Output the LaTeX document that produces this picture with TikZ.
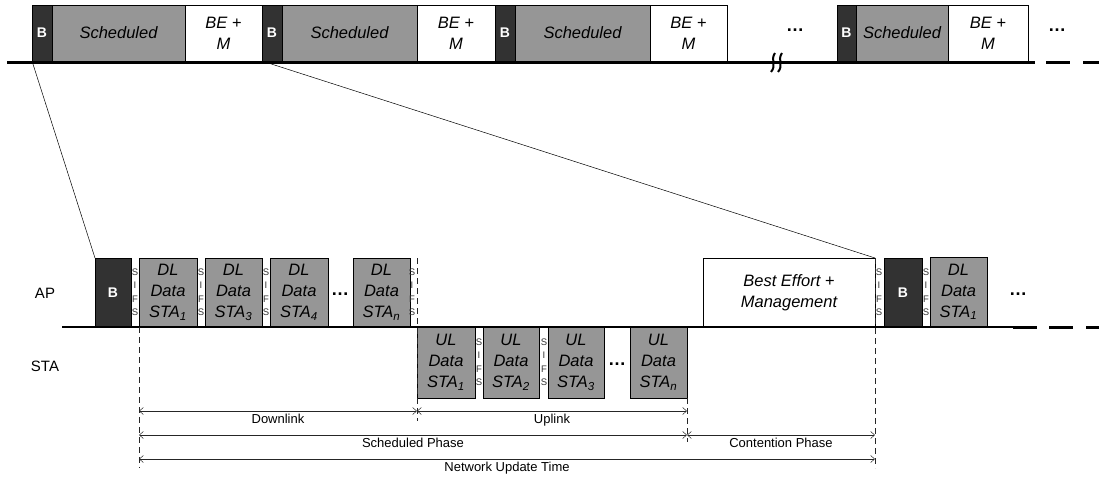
\documentclass[tikz,border=0pt]{standalone}
\usepackage{fontspec}
\setmainfont{Liberation Sans}
\usetikzlibrary{arrows.meta}
\definecolor{frgray}{RGB}{150,150,150}
\definecolor{bdark}{RGB}{50,50,50}

\begin{document}
\begin{tikzpicture}[x=1pt,y=-1pt]
\tikzstyle{every node}+=[inner sep=0pt, outer sep=0pt]
\tikzstyle{bcn}=[draw, line width=0.6pt, fill=bdark, text=white, font=\bfseries\fontsize{14}{14}\selectfont, anchor=north west]
\tikzstyle{sched}=[draw, line width=0.6pt, fill=frgray, font=\itshape\fontsize{16.5}{21}\selectfont, align=center, anchor=north west]
\tikzstyle{bem}=[draw, line width=0.6pt, fill=white, font=\itshape\fontsize{16.5}{21}\selectfont, align=center, anchor=north west]
\tikzstyle{sifs}=[font=\fontsize{9.5}{13.5}\selectfont, align=center, text=black!80]
\tikzstyle{dots}=[font=\bfseries\fontsize{18}{18}\selectfont]
\tikzstyle{dim}=[{Straight Barb[length=4pt,width=7pt]}-{Straight Barb[length=4pt,width=7pt]}, line width=0.5pt, black!85]
\tikzstyle{dimlbl}=[below=3pt, font=\fontsize{13}{13}\selectfont, text=black]
\tikzstyle{vguide}=[dash pattern=on 6pt off 4pt, line width=0.5pt, black!85]
\useasboundingbox (0,0) rectangle (1099,479);

% superframes on top
\node[bcn, minimum width=20, minimum height=56] (tb1) at (32,5) {B};
\node[sched, minimum width=133, minimum height=56] (ts1) at (tb1.north east) {Scheduled};
\node[bem, minimum width=77, minimum height=56] (te1) at (ts1.north east) {BE +\\M};
\node[bcn, minimum width=20, minimum height=56] (tb2) at (te1.north east) {B};
\node[sched, minimum width=135, minimum height=56] (ts2) at (tb2.north east) {Scheduled};
\node[bem, minimum width=78, minimum height=56] (te2) at (ts2.north east) {BE +\\M};
\node[bcn, minimum width=20, minimum height=56] (tb3) at (te2.north east) {B};
\node[sched, minimum width=135, minimum height=56] (ts3) at (tb3.north east) {Scheduled};
\node[bem, minimum width=77, minimum height=56] (te3) at (ts3.north east) {BE +\\M};
\node[dots] (tdots1) at (795,30) {\ldots};
\node[bcn, minimum width=19, minimum height=56] (tb4) at (837,5) {B};
\node[sched, minimum width=92, minimum height=56] (ts4) at (tb4.north east) {Scheduled};
\node[bem, minimum width=80, minimum height=56] (te4) at (ts4.north east) {BE +\\M};
\node[dots] (tdots2) at (1057,30) {\ldots};

\draw[line width=3pt] (7,62) -- (1035,62);
\draw[line width=3pt] (1046,62) -- (1070,62);
\draw[line width=3pt] (1083,62) -- (1099,62);
\draw[line width=2pt] (775,53) .. controls (770,60) and (777,65) .. (771,72);
\draw[line width=2pt] (782,53) .. controls (777,60) and (784,65) .. (778,72);

% one beacon interval, zoomed
\node[font=\fontsize{15}{15}\selectfont] (ap) at (45,293) {AP};
\node[font=\fontsize{15}{15}\selectfont] (sta) at (45,366) {STA};

\node[bcn, minimum width=36, minimum height=69] (b0) at (95,258) {B};
\node[sched, minimum width=58, minimum height=69] (dl1) at (139,258) {DL\\Data\\STA\textsubscript{1}};
\node[sched, minimum width=57, minimum height=69] (dl3) at (205,258) {DL\\Data\\STA\textsubscript{3}};
\node[sched, minimum width=58, minimum height=69] (dl4) at (270,258) {DL\\Data\\STA\textsubscript{4}};
\node[dots] (dldots) at (340,294) {\ldots};
\node[sched, minimum width=57, minimum height=69] (dln) at (353,258) {DL\\Data\\STA\textsubscript{\textit{n}}};

\node[sched, minimum width=58, minimum height=71] (ul1) at (417,327) {UL\\Data\\STA\textsubscript{1}};
\node[sched, minimum width=56, minimum height=71] (ul2) at (483,327) {UL\\Data\\STA\textsubscript{2}};
\node[sched, minimum width=56, minimum height=71] (ul3) at (548,327) {UL\\Data\\STA\textsubscript{3}};
\node[dots] (uldots) at (617,364) {\ldots};
\node[sched, minimum width=57, minimum height=71] (uln) at (630,327) {UL\\Data\\STA\textsubscript{\textit{n}}};

\node[bem, minimum width=172, minimum height=69] (bem) at (703,258) {Best Effort +\\Management};
\node[bcn, minimum width=38, minimum height=69] (b1) at (884,258) {B};
\node[sched, minimum width=57, minimum height=70] (dlx) at (930,257) {DL\\Data\\STA\textsubscript{1}};
\node[dots] (xdots) at (1018,294) {\ldots};

\node[sifs] (sf1) at (135,292) {S\\I\\F\\S};
\node[sifs] (sf2) at (201,292) {S\\I\\F\\S};
\node[sifs] (sf3) at (266,292) {S\\I\\F\\S};
\node[sifs] (sf4) at (412,292) {S\\I\\F\\S};
\node[sifs] (sf5) at (479,362) {S\\I\\F\\S};
\node[sifs] (sf6) at (544,362) {S\\I\\F\\S};
\node[sifs] (sf7) at (879,292) {S\\I\\F\\S};
\node[sifs] (sf8) at (926,292) {S\\I\\F\\S};

\draw[line width=1.4pt] (62,327) -- (1013,327);
\draw[line width=3pt] (1013,327) -- (1037,327);
\draw[line width=3pt] (1049,327) -- (1073,327);
\draw[line width=3pt] (1086,327) -- (1099,327);

% zoom lines
\draw[line width=0.5pt] (tb1.south west) -- (b0.north west);
\draw[line width=0.5pt] (tb2.south west) -- (bem.north east);

% phase limits
\coordinate (dlA) at (139,411);
\coordinate (dlB) at (417,411);
\coordinate (ulB) at (687,411);
\coordinate (spA) at (139,435);
\coordinate (spB) at (687,435);
\coordinate (cpB) at (875,435);
\coordinate (nuA) at (139,459);
\coordinate (nuB) at (875,459);

\draw[vguide] (dl1.south west) -- (139,468);
\draw[vguide] (dln.north east) ++(7,0) coordinate (cut) -- (417,421);
\draw[vguide] (uln.south east) -- (687,442);
\draw[vguide] (bem.north east) -- (875,468);

\draw[dim] (dlA) -- node[dimlbl] {Downlink} (dlB);
\draw[dim] (dlB) -- node[dimlbl] {Uplink} (ulB);
\draw[dim] (spA) -- node[dimlbl] {Scheduled Phase} (spB);
\draw[dim] (spB) -- node[dimlbl] {Contention Phase} (cpB);
\draw[dim] (nuA) -- node[dimlbl] {Network Update Time} (nuB);
\end{tikzpicture}
\end{document}
